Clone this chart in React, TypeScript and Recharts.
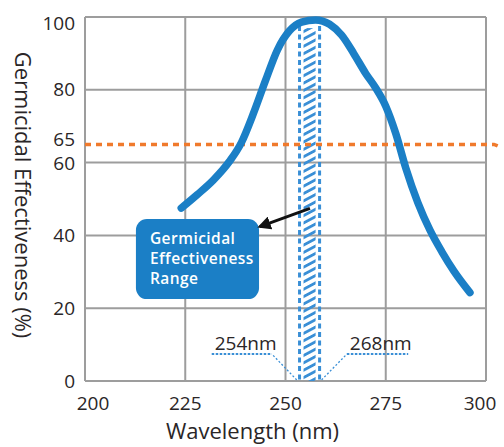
import React from 'react';
import {
  LineChart,
  Line,
  XAxis,
  YAxis,
  CartesianGrid,
  ReferenceLine,
  ReferenceArea,
  Label,
} from 'recharts';

// curve (nm -> %)
const WAVELENGTH = [224, 228, 232, 236, 239, 242, 245, 248, 251, 254, 257.5, 261, 264, 267, 270, 272.5, 275, 277.5, 280, 283, 286, 289, 292, 296];
const EFFECTIVENESS = [47.5, 51.2, 55.2, 60.3, 65.5, 73.5, 82.5, 91, 96.2, 98.6, 99.2, 98, 95, 90, 84.5, 80.5, 75.5, 68, 58.5, 49, 41.5, 35.5, 30.2, 24.3];

const X_TICKS = [200, 225, 250, 275, 300];
const Y_TICKS = [0, 20, 40, 60, 65, 80, 100];
const GRID_X = [200, 225, 250, 275, 300];
const GRID_Y = [0, 20, 40, 60, 80, 100];

const THRESHOLD = 65;
const BAND = [253.5, 258.5]; // hatched band edges as drawn
const BAND_TOP = 97.5;
const RANGE_LABELS = ['254nm', '268nm'];
const CALLOUT_LINES = ['Germicidal', 'Effectiveness', 'Range'];

const data = WAVELENGTH.map((w, i) => ({ w, v: EFFECTIVENESS[i] }));

const BLUE = '#1b7fc6';
const HATCH = '#3a8fd6';
const ORANGE = '#f07a2c';
const GRID = '#9d9d9d';
const INK = '#2a2627';

function XTick({ x, y, payload }: any) {
  const nudge = payload.value === 200 ? 8 : payload.value === 300 ? -6 : 0;
  return (
    <text x={x + nudge} y={y + 29} textAnchor="middle" fill={INK} fontSize={19}>
      {payload.value}
    </text>
  );
}

function YTick({ x, y, payload }: any) {
  // keep 65 and 60 apart the way the original does
  const nudge = payload.value === 100 ? 6 : payload.value === 65 ? -5 : payload.value === 60 ? 1 : 0;
  return (
    <text x={x} y={y + nudge} dy="0.35em" textAnchor="end" fill={INK} fontSize={19}>
      {payload.value}
    </text>
  );
}

function BandShape({ x, y, width, height }: any) {
  return (
    <g>
      <rect x={x + 4} y={y + 2} width={width - 8} height={height - 2} fill="url(#hatch)" />
      <line x1={x} y1={y} x2={x} y2={y + height} stroke={HATCH} strokeWidth={3} strokeDasharray="5 3.5" />
      <line x1={x + width} y1={y} x2={x + width} y2={y + height} stroke={HATCH} strokeWidth={3} strokeDasharray="5 3.5" />
    </g>
  );
}

function CalloutShape({ x, y, width, height }: any) {
  return (
    <g>
      <rect x={x} y={y} width={width} height={height} rx={11} fill={BLUE} />
      {CALLOUT_LINES.map((t, i) => (
        <text
          key={t}
          x={x + 14}
          y={y + 25 + i * 20}
          fill="#fff"
          fontSize={15.5}
          fontWeight={600}
          letterSpacing={0.45}
        >
          {t}
        </text>
      ))}
    </g>
  );
}

function ThresholdShape({ x1, y1, x2 }: any) {
  return (
    <path
      d={`M${x1},${y1} H${x2 + 8} L${x2 + 15},${y1 + 3}`}
      fill="none"
      stroke={ORANGE}
      strokeWidth={3.5}
      strokeDasharray="6 5"
    />
  );
}

function ArrowShape({ x1, y1, x2, y2 }: any) {
  return <line x1={x1} y1={y1} x2={x2} y2={y2} stroke="#111" strokeWidth={3} markerEnd="url(#arrowHead)" />;
}

const leaderProps = { stroke: HATCH, strokeWidth: 1.3, strokeDasharray: '2 2' };
const underlineProps = { stroke: HATCH, strokeWidth: 2, strokeDasharray: '2.5 1.5' };

function rangeLabel(text: string) {
  return (props: any) => {
    const vb = props.viewBox;
    return (
      <text x={vb.x + 3} y={vb.y - 4} fill={INK} fontSize={19}>
        {text}
      </text>
    );
  };
}

export default function App() {
  return (
    <div style={{ position: 'absolute', left: 0, top: 0, fontFamily: "'Open Sans', sans-serif", background: '#fff' }}>
      <LineChart width={504} height={447} data={data} margin={{ top: 17, right: 18, bottom: 0, left: 0 }}>
        <defs>
          <pattern id="hatch" patternUnits="userSpaceOnUse" width={12} height={6.5} patternTransform="rotate(-28)">
            <rect x={0} y={0} width={12} height={2.8} fill={HATCH} />
          </pattern>
          <marker id="arrowHead" viewBox="0 0 10 10" refX={8} refY={5} markerWidth={4.5} markerHeight={4.5} orient="auto">
            <path d="M0,0 L10,5 L0,10 Z" fill="#111" />
          </marker>
        </defs>
        <CartesianGrid
          stroke={GRID}
          strokeWidth={2}
          horizontalValues={GRID_Y}
          verticalValues={GRID_X}
        />
        <XAxis
          dataKey="w"
          type="number"
          domain={[200, 300]}
          ticks={X_TICKS}
          interval={0}
          axisLine={false}
          tickLine={false}
          tickSize={0}
          tickMargin={0}
          height={66}
          tick={<XTick />}
        >
          <Label
            content={(p: any) => (
              <text
                x={p.viewBox.x + p.viewBox.width / 2 - 33}
                y={p.viewBox.y + 58}
                textAnchor="middle"
                fill={INK}
                fontSize={22}
              >
                Wavelength (nm)
              </text>
            )}
          />
        </XAxis>
        <YAxis
          type="number"
          domain={[0, 100]}
          ticks={Y_TICKS}
          interval={0}
          axisLine={false}
          tickLine={false}
          tickSize={0}
          tickMargin={10}
          width={85}
          tick={<YTick />}
        >
          <Label
            content={(p: any) => (
              <text
                transform={`translate(${p.viewBox.x + 24}, ${p.viewBox.y + p.viewBox.height / 2 - 4}) rotate(90)`}
                textAnchor="middle"
                dominantBaseline="central"
                fill={INK}
                fontSize={22}
              >
                Germicidal Effectiveness (%)
              </text>
            )}
          />
        </YAxis>

        <ReferenceArea x1={BAND[0]} x2={BAND[1]} y1={0} y2={BAND_TOP} shape={<BandShape />} />
        <ReferenceLine y={THRESHOLD} shape={<ThresholdShape />} />

        {/* 254nm / 268nm leaders */}
        <ReferenceLine segment={[{ x: 252.8, y: 0.3 }, { x: 246.6, y: 7.4 }]} {...leaderProps} />
        <ReferenceLine segment={[{ x: 231.6, y: 7.4 }, { x: 246.6, y: 7.4 }]} {...underlineProps}>
          <Label content={rangeLabel(RANGE_LABELS[0])} />
        </ReferenceLine>
        <ReferenceLine segment={[{ x: 259, y: 0.3 }, { x: 265.3, y: 7.4 }]} {...leaderProps} />
        <ReferenceLine segment={[{ x: 265.3, y: 7.4 }, { x: 280.6, y: 7.4 }]} {...underlineProps}>
          <Label content={rangeLabel(RANGE_LABELS[1])} />
        </ReferenceLine>

        <Line
          type="monotone"
          dataKey="v"
          stroke={BLUE}
          strokeWidth={7.5}
          strokeLinecap="round"
          dot={false}
          activeDot={false}
          isAnimationActive={false}
        />

        <ReferenceArea x1={212.7} x2={243.4} y1={22.5} y2={44.5} shape={<CalloutShape />} />
        <ReferenceLine segment={[{ x: 256.1, y: 47.4 }, { x: 243.6, y: 42.4 }]} shape={<ArrowShape />} />
      </LineChart>
    </div>
  );
}
